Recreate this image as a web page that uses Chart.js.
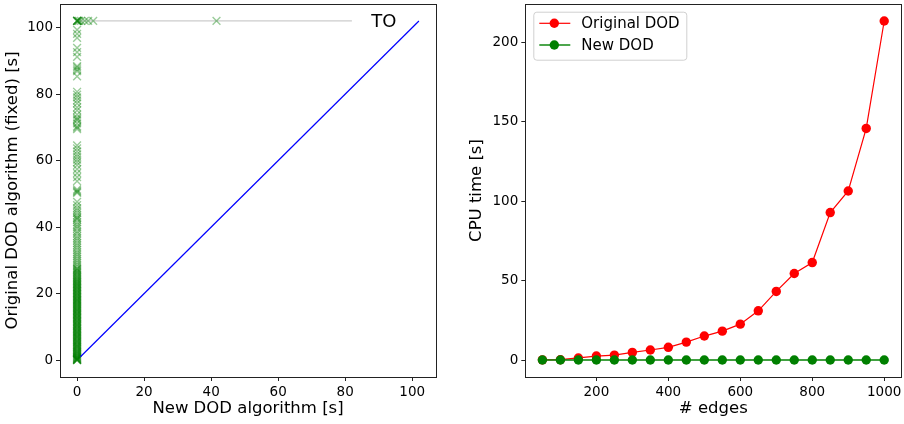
<!DOCTYPE html>
<html>
<head>
<meta charset="utf-8">
<script src="https://cdn.jsdelivr.net/npm/chart.js@4.4.1/dist/chart.umd.min.js"></script>
<style>
  html, body { margin: 0; padding: 0; background: #fff; }
  #wrap { position: relative; width: 904px; height: 424px; }
  canvas { position: absolute; top: 0; }
  #left { left: 0; }
  #right { left: 450px; }
</style>
</head>
<body>
<div id="wrap">
  <canvas id="left" width="450" height="424"></canvas>
  <canvas id="right" width="454" height="424"></canvas>
</div>
<script>
// ---- left panel: per instance times ----
const TIMEOUT = 102;          // timed out runs are plotted at this value
const NEW_FAST = 0;           // new algorithm time for the solved instances
const origSolved = [
  99.3, 98.1, 96.9, 93.9, 92.6, 91.2, 88.4, 88.0, 87.4, 86.9, 85.3,
  80.7, 79.8, 79.0, 78.1, 77.2, 76.0, 75.1, 73.8, 72.9, 72.5, 72.1, 71.2, 70.3, 69.9, 69.5,
  64.6, 63.7, 62.8, 61.9, 61.1, 60.3, 59.5, 58.6, 57.4, 56.2, 55.0, 53.8, 51.3, 50.9, 50.6, 50.3,
  47.6, 46.6, 45.7, 45.0, 44.3, 43.5, 42.9, 42.6, 42.2, 41.4, 40.7, 40.1, 39.5, 38.7, 38.1, 37.3,
  36.6, 35.9, 35.2, 34.5, 33.8, 33.1, 32.4, 31.8, 31.2, 30.5, 29.9, 29.3, 28.7, 28.2, 27.6, 27.1,
  26.5, 26.0, 25.4, 24.9, 24.3, 23.8, 23.4, 22.9, 22.5, 22.0, 21.6, 21.1, 20.7, 20.2, 19.8, 19.3,
  18.9, 18.4, 18.0, 17.6, 17.1, 16.7, 16.2, 15.8, 15.3, 14.9, 14.5, 14.0, 13.6, 13.1, 12.7, 12.3,
  11.8, 11.4, 10.9, 10.5, 10.1, 9.6, 9.2, 8.7, 8.3, 7.9, 7.4, 7.0, 6.6, 6.1, 5.7, 5.3, 4.8, 4.4,
  4.0, 3.6, 3.1, 2.7, 2.3, 1.9, 1.5, 1.1, 0.8, 0.5, 0.3, 0.2, 0.1, 0.0, 0.0,
  0.05, 0.4, 0.65, 0.95, 1.3, 1.7, 2.1, 2.5, 2.9, 3.35, 3.8, 4.2, 4.6, 5.1, 5.5, 5.9, 6.35, 6.8,
  7.2, 7.65, 8.1, 8.5, 8.95, 9.4, 9.8, 10.3, 10.7, 11.2, 11.6, 12.0, 12.5, 12.9, 13.4, 13.8, 14.2,
  14.7, 15.1, 15.55, 16.0, 16.45, 16.9, 17.35, 17.8, 18.2, 18.65, 19.1, 19.55, 20.0, 20.45, 20.9,
  21.35, 21.8, 22.2, 22.7, 23.1, 23.6, 24.1, 24.6, 25.1, 25.7, 26.3, 26.8, 27.4
];
const newTimedOut = [0, 0, 0, 0, 0.3, 0.6, 1.2, 2.3, 3.3, 4.8, 41.6];
const toLineX = [0, 82];
const diagonal = [1, 102];
const leftTicks = [0, 20, 40, 60, 80, 100];

// ---- right panel: scaling ----
const edges = [50, 100, 150, 200, 250, 300, 350, 400, 450, 500, 550, 600, 650, 700, 750, 800, 850, 900, 950, 1000];
const originalDod = [0.1, 0.2, 1.3, 2.5, 3.1, 4.8, 6.3, 8.0, 11.3, 15.1, 18.2, 22.6, 31.0, 43.2, 54.5, 61.4, 92.9, 106.5, 145.9, 213.6];
const newDod = [0, 0, 0, 0, 0, 0, 0, 0, 0, 0, 0, 0, 0, 0, 0, 0, 0, 0, 0, 0];
const edgeTicks = [200, 400, 600, 800, 1000];
const cpuTicks = [0, 50, 100, 150, 200];

Chart.defaults.font.family = "'DejaVu Sans', sans-serif";
Chart.defaults.color = '#000';

function fixTicks(list) {
  return function(scale) { scale.ticks = list.map(v => ({ value: v })); };
}

const toLabel = {
  id: 'toLabel',
  afterDatasetsDraw(chart) {
    const ctx = chart.ctx;
    const x = chart.scales.x.getPixelForValue(87.8);
    const y = chart.scales.y.getPixelForValue(TIMEOUT);
    ctx.save();
    ctx.font = "18px 'DejaVu Sans', sans-serif";
    ctx.fillStyle = '#000';
    ctx.textBaseline = 'middle';
    ctx.fillText('TO', x, y + 1);
    ctx.restore();
  }
};

const insideLegend = {
  id: 'insideLegend',
  afterDraw(chart) {
    const ctx = chart.ctx, a = chart.chartArea;
    const bx = a.left + 8, by = a.top + 7.7, bw = 153, bh = 48;
    ctx.save();
    ctx.fillStyle = 'rgba(255,255,255,0.8)';
    ctx.strokeStyle = '#d0d0d0';
    ctx.lineWidth = 1;
    ctx.beginPath();
    ctx.roundRect(bx + 0.5, by + 0.5, bw, bh, 3);
    ctx.fill();
    ctx.stroke();
    ctx.font = "15px 'DejaVu Sans', sans-serif";
    ctx.textBaseline = 'middle';
    chart.data.datasets.forEach((ds, i) => {
      const yy = by + 11.6 + i * 21.7;
      ctx.strokeStyle = ds.borderColor;
      ctx.lineWidth = ds.borderWidth;
      ctx.beginPath();
      ctx.moveTo(bx + 6, yy);
      ctx.lineTo(bx + 37, yy);
      ctx.stroke();
      ctx.fillStyle = ds.backgroundColor;
      ctx.beginPath();
      ctx.arc(bx + 21, yy, 4.7, 0, Math.PI * 2);
      ctx.fill();
      ctx.fillStyle = '#000';
      ctx.fillText(ds.label, bx + 48, yy + 1);
    });
    ctx.restore();
  }
};

function axis(min, max, ticks, title, fitSize, horizontal, titlePad) {
  return {
    type: 'linear',
    min: min,
    max: max,
    afterBuildTicks: fixTicks(ticks),
    afterFit: function(s) {
      if (horizontal) s.height = fitSize; else s.width = fitSize;
      s.paddingLeft = 0; s.paddingRight = 0; s.paddingTop = 0; s.paddingBottom = 0;
    },
    grid: { drawOnChartArea: false, drawTicks: true, tickLength: 4, color: '#222' },
    border: { color: '#222', width: 1 },
    ticks: { font: { size: 13.5 }, color: '#000', padding: 3, maxRotation: 0, callback: v => String(v) },
    title: { display: true, text: title, font: { size: 16.5 }, color: '#000', padding: titlePad }
  };
}

// empty top / right axes just to close the box like matplotlib spines
function spine(position, min, max) {
  return {
    type: 'linear',
    position: position,
    min: min,
    max: max,
    afterBuildTicks: s => { s.ticks = []; },
    afterFit: function(s) {
      if (position === 'top') s.height = 0; else s.width = 0;
      s.paddingLeft = 0; s.paddingRight = 0; s.paddingTop = 0; s.paddingBottom = 0;
    },
    grid: { display: false },
    border: { display: true, color: '#222', width: 1 },
    ticks: { display: false }
  };
}

const markPts = origSolved.map(y => ({ x: NEW_FAST, y: y }))
  .concat(newTimedOut.map(x => ({ x: x, y: TIMEOUT })));

new Chart(document.getElementById('left'), {
  type: 'scatter',
  data: {
    datasets: [
      {
        label: 'instances',
        data: markPts,
        pointStyle: 'crossRot',
        pointRadius: 5.5,
        pointBorderWidth: 1.4,
        borderColor: 'rgba(0,128,0,0.4)',
        backgroundColor: 'rgba(0,128,0,0.4)',
        order: 1
      },
      {
        type: 'line',
        label: 'timeout',
        data: toLineX.map(x => ({ x: x, y: TIMEOUT })),
        showLine: true,
        borderColor: '#cccccc',
        borderWidth: 1.2,
        pointRadius: 0,
        order: 2
      },
      {
        type: 'line',
        label: 'diagonal',
        data: diagonal.map(v => ({ x: v, y: v })),
        showLine: true,
        borderColor: '#0000ff',
        backgroundColor: '#0000ff',
        borderWidth: 1.2,
        pointRadius: 0,
        order: 0
      }
    ]
  },
  options: {
    responsive: false,
    animation: false,
    events: [],
    layout: { autoPadding: false, padding: { left: 0, top: 4, right: 14, bottom: 0 } },
    plugins: { legend: { display: false }, tooltip: { enabled: false } },
    scales: {
      x: axis(-5.1, 107.1, leftTicks, 'New DOD algorithm [s]', 47, true, { top: 0, bottom: 5 }),
      y: axis(-5.1, 107.1, leftTicks, 'Original DOD algorithm (fixed) [s]', 60, false, { top: 3, bottom: 0 }),
      xTop: spine('top', -5.1, 107.1),
      yRight: spine('right', -5.1, 107.1)
    }
  },
  plugins: [toLabel]
});

new Chart(document.getElementById('right'), {
  type: 'line',
  data: {
    datasets: [
      {
        label: 'Original DOD',
        data: edges.map((e, i) => ({ x: e, y: originalDod[i] })),
        borderColor: '#ff0000',
        backgroundColor: '#ff0000',
        borderWidth: 1.2,
        pointRadius: 4.7,
        pointBorderWidth: 0,
        order: 1
      },
      {
        label: 'New DOD',
        data: edges.map((e, i) => ({ x: e, y: newDod[i] })),
        borderColor: '#008000',
        backgroundColor: '#008000',
        borderWidth: 1.4,
        pointRadius: 4.7,
        pointBorderWidth: 0,
        order: 0
      }
    ]
  },
  options: {
    responsive: false,
    animation: false,
    events: [],
    layout: { autoPadding: false, padding: { left: 0, top: 4, right: 2.7, bottom: 0 } },
    plugins: { legend: { display: false }, tooltip: { enabled: false } },
    scales: {
      x: axis(2.5, 1047.5, edgeTicks, '# edges', 47, true, { top: 0, bottom: 5 }),
      y: axis(-10.7, 224.3, cpuTicks, 'CPU time [s]', 75.3, false, { top: 17, bottom: 0 }),
      xTop: spine('top', 2.5, 1047.5),
      yRight: spine('right', -10.7, 224.3)
    }
  },
  plugins: [insideLegend]
});
</script>
</body>
</html>
